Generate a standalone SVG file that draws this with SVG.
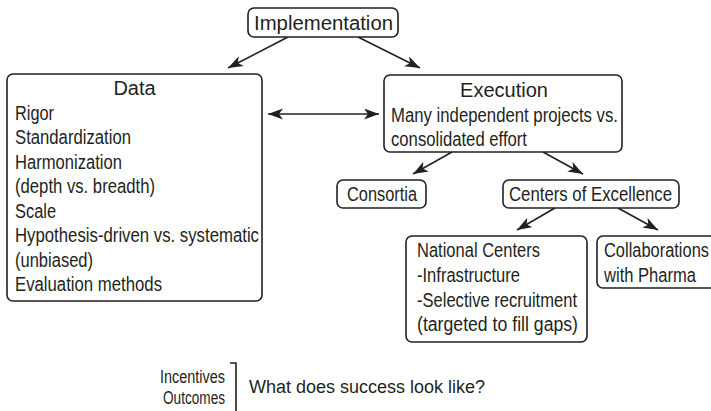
<svg xmlns="http://www.w3.org/2000/svg" width="711" height="411" viewBox="0 0 711 411">
  <style>
    .box { fill: #ffffff; stroke: #231f20; stroke-width: 1.6; }
    .t { font-family: "Liberation Sans", Arial, sans-serif; fill: #231f20; }
    .title { font-size: 20px; }
    .body { font-size: 20px; }
    .small { font-size: 18px; }
    .conn line, .conn path { stroke: #231f20; stroke-width: 1.6; fill: none; }
  </style>
  <defs>
    <marker id="ah" markerUnits="userSpaceOnUse" markerWidth="16" markerHeight="12" refX="15" refY="5.5" orient="auto-start-reverse">
      <path d="M0,0 L15,5.5 L0,11 L4,5.5 z" fill="#231f20"/>
    </marker>
  </defs>
  <rect width="711" height="411" fill="#ffffff"/>

  <g class="conn">
    <line x1="288" y1="37" x2="228" y2="68" marker-end="url(#ah)"/>
    <line x1="358" y1="37" x2="420" y2="68" marker-end="url(#ah)"/>
    <line x1="268" y1="114" x2="379" y2="114" marker-start="url(#ah)" marker-end="url(#ah)"/>
    <line x1="452" y1="152" x2="413" y2="174" marker-end="url(#ah)"/>
    <line x1="543" y1="152" x2="583" y2="174" marker-end="url(#ah)"/>
    <line x1="555" y1="208" x2="517" y2="230" marker-end="url(#ah)"/>
    <line x1="618" y1="208" x2="658" y2="230" marker-end="url(#ah)"/>
    <path d="M230,363 L236,363 L236,411"/>
  </g>

  <g id="implementation">
    <rect class="box" x="248" y="8" width="150" height="29" rx="6"/>
    <text class="t title" x="254" y="30" textLength="139" lengthAdjust="spacingAndGlyphs">Implementation</text>
  </g>

  <g id="data">
    <rect class="box" x="7" y="74" width="255" height="227" rx="6"/>
    <text class="t title" x="134.5" y="95" text-anchor="middle">Data</text>
    <text class="t body" x="15" y="119.5" textLength="39" lengthAdjust="spacingAndGlyphs">Rigor</text>
    <text class="t body" x="15" y="144" textLength="116" lengthAdjust="spacingAndGlyphs">Standardization</text>
    <text class="t body" x="15" y="168.5" textLength="107" lengthAdjust="spacingAndGlyphs">Harmonization</text>
    <text class="t body" x="15" y="193" textLength="140" lengthAdjust="spacingAndGlyphs">(depth vs. breadth)</text>
    <text class="t body" x="15" y="217.5" textLength="41" lengthAdjust="spacingAndGlyphs">Scale</text>
    <text class="t body" x="15" y="242" textLength="244" lengthAdjust="spacingAndGlyphs">Hypothesis-driven vs. systematic</text>
    <text class="t body" x="15" y="266.5" textLength="78" lengthAdjust="spacingAndGlyphs">(unbiased)</text>
    <text class="t body" x="15" y="291" textLength="147" lengthAdjust="spacingAndGlyphs">Evaluation methods</text>
  </g>

  <g id="execution">
    <rect class="box" x="384" y="75" width="238" height="77" rx="6"/>
    <text class="t title" x="504" y="97" text-anchor="middle">Execution</text>
    <text class="t body" x="391" y="122" textLength="227" lengthAdjust="spacingAndGlyphs">Many independent projects vs.</text>
    <text class="t body" x="391" y="146" textLength="136" lengthAdjust="spacingAndGlyphs">consolidated effort</text>
  </g>

  <g id="consortia">
    <rect class="box" x="337" y="180" width="89" height="28" rx="6"/>
    <text class="t body" x="347" y="201" textLength="70" lengthAdjust="spacingAndGlyphs">Consortia</text>
  </g>

  <g id="centers">
    <rect class="box" x="503" y="180" width="176" height="28" rx="6"/>
    <text class="t body" x="509" y="201" textLength="163" lengthAdjust="spacingAndGlyphs">Centers of Excellence</text>
  </g>

  <g id="national">
    <rect class="box" x="406" y="236" width="181" height="106" rx="6"/>
    <text class="t body" x="417" y="257" textLength="123" lengthAdjust="spacingAndGlyphs">National Centers</text>
    <text class="t body" x="417" y="282" textLength="103" lengthAdjust="spacingAndGlyphs">-Infrastructure</text>
    <text class="t body" x="417" y="307" textLength="160" lengthAdjust="spacingAndGlyphs">-Selective recruitment</text>
    <text class="t body" x="417" y="331" textLength="161" lengthAdjust="spacingAndGlyphs">(targeted to fill gaps)</text>
  </g>

  <g id="pharma">
    <rect class="box" x="597" y="236" width="125" height="52" rx="6"/>
    <text class="t body" x="604" y="257" textLength="105" lengthAdjust="spacingAndGlyphs">Collaborations</text>
    <text class="t body" x="604" y="282" textLength="92" lengthAdjust="spacingAndGlyphs">with Pharma</text>
  </g>

  <g id="footer">
    <text class="t small" x="225" y="383" text-anchor="end" textLength="65" lengthAdjust="spacingAndGlyphs">Incentives</text>
    <text class="t small" x="225" y="404" text-anchor="end" textLength="62" lengthAdjust="spacingAndGlyphs">Outcomes</text>
    <text class="t" style="font-size:18px" x="249" y="393">What does success look like?</text>
  </g>
</svg>
